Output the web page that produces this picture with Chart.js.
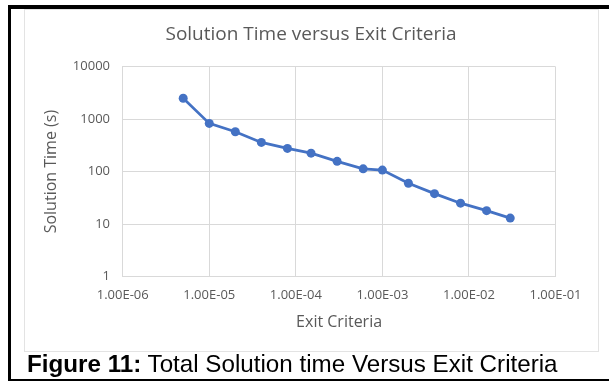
<!DOCTYPE html>
<html>
<head>
<meta charset="utf-8">
<script src="https://cdn.jsdelivr.net/npm/chart.js@4.4.1/dist/chart.umd.min.js"></script>
<style>
  html, body { margin: 0; padding: 0; background: #fff; }
  body { width: 609px; height: 381px; position: relative; overflow: hidden; }
  .bar { position: absolute; background: #000; }
  #box { position: absolute; left: 24px; top: 9px; width: 575px; height: 343px;
         box-sizing: border-box; border: 1px solid #e3e3e3; }
  #chart { position: absolute; left: 24px; top: 10px; }
  #caption { position: absolute; left: 27px; top: 350px; font-family: "Liberation Sans", Arial, sans-serif;
             font-size: 24.2px; color: #000; white-space: nowrap; line-height: 28px; }
</style>
</head>
<body>
<div class="bar" style="left:8px; top:5px; width:601px; height:4px;"></div>
<div class="bar" style="left:8px; top:5px; width:3px; height:376px;"></div>
<div class="bar" style="left:8px; top:379px; width:601px; height:2px;"></div>
<div id="box"></div>
<canvas id="chart" width="574" height="341"></canvas>
<div id="caption"><b>Figure 11:</b> Total Solution time Versus Exit Criteria</div>

<script>
// values
const exitCriteria = [5e-6, 1e-5, 2e-5, 4e-5, 8e-5, 1.5e-4, 3e-4, 6e-4, 1e-3, 2e-3, 4e-3, 8e-3, 1.6e-2, 3e-2];
const solutionTime = [2500, 830, 575, 360, 277, 225, 157, 113, 107, 60, 38, 25, 18, 13];

const xTickValues = [1e-6, 1e-5, 1e-4, 1e-3, 1e-2, 1e-1];
const xTickLabels = ['1.00E-06', '1.00E-05', '1.00E-04', '1.00E-03', '1.00E-02', '1.00E-01'];
const yTickValues = [1, 10, 100, 1000, 10000];
const yTickLabels = ['1', '10', '100', '1000', '10000'];

const chartTitle = 'Solution Time versus Exit Criteria';

const blue = '#4472C4';
const grey = '#595959';
const gridColor = '#d9d9d9';

const points = exitCriteria.map((x, i) => ({ x: x, y: solutionTime[i] }));

// title centred on the whole chart box, like Excel does
const boxTitle = {
  id: 'boxTitle',
  afterDraw(chart) {
    const ctx = chart.ctx;
    ctx.save();
    ctx.font = '19px "Open Sans"';
    ctx.fillStyle = grey;
    ctx.textAlign = 'center';
    ctx.textBaseline = 'middle';
    ctx.fillText(chartTitle, chart.width / 2, 25);
    ctx.restore();
  }
};

new Chart(document.getElementById('chart'), {
  type: 'line',
  data: {
    datasets: [{
      data: points,
      borderColor: blue,
      backgroundColor: blue,
      borderWidth: 2.75,
      pointRadius: 4.5,
      pointBorderWidth: 0,
      pointBackgroundColor: blue,
      tension: 0
    }]
  },
  options: {
    responsive: false,
    animation: false,
    layout: { padding: { left: 0, right: 42.5, top: 56.7, bottom: 0 } },
    plugins: {
      legend: { display: false },
      tooltip: { enabled: false },
      title: { display: false }
    },
    scales: {
      x: {
        type: 'logarithmic',
        min: 1e-6,
        max: 1e-1,
        afterBuildTicks: s => { s.ticks = xTickValues.map(v => ({ value: v })); },
        afterFit: s => { s.height = 74.5; },
        ticks: {
          color: grey,
          font: { family: 'Open Sans', size: 13 },
          padding: 10.7,
          maxRotation: 0,
          autoSkip: false,
          callback: (v, i) => xTickLabels[i]
        },
        grid: { color: gridColor, lineWidth: 1, drawTicks: false },
        border: { color: gridColor },
        title: {
          display: true,
          text: 'Exit Criteria',
          color: grey,
          font: { family: 'Open Sans', size: 16, lineHeight: 1.2 },
          padding: { top: 0, bottom: 19.4 }
        }
      },
      y: {
        type: 'logarithmic',
        min: 1,
        max: 10000,
        afterBuildTicks: s => { s.ticks = yTickValues.map(v => ({ value: v })); },
        afterFit: s => { s.width = 98.7; },
        ticks: {
          color: grey,
          font: { family: 'Open Sans', size: 13 },
          padding: 12.7,
          autoSkip: false,
          callback: (v, i) => yTickLabels[i]
        },
        grid: { color: gridColor, lineWidth: 1, drawTicks: false },
        border: { color: gridColor },
        title: {
          display: true,
          text: 'Solution Time (s)',
          color: grey,
          font: { family: 'Open Sans', size: 16, lineHeight: 1.2 },
          padding: { top: 17.4, bottom: 0 }
        }
      }
    }
  },
  plugins: [boxTitle]
});
</script>
</body>
</html>
